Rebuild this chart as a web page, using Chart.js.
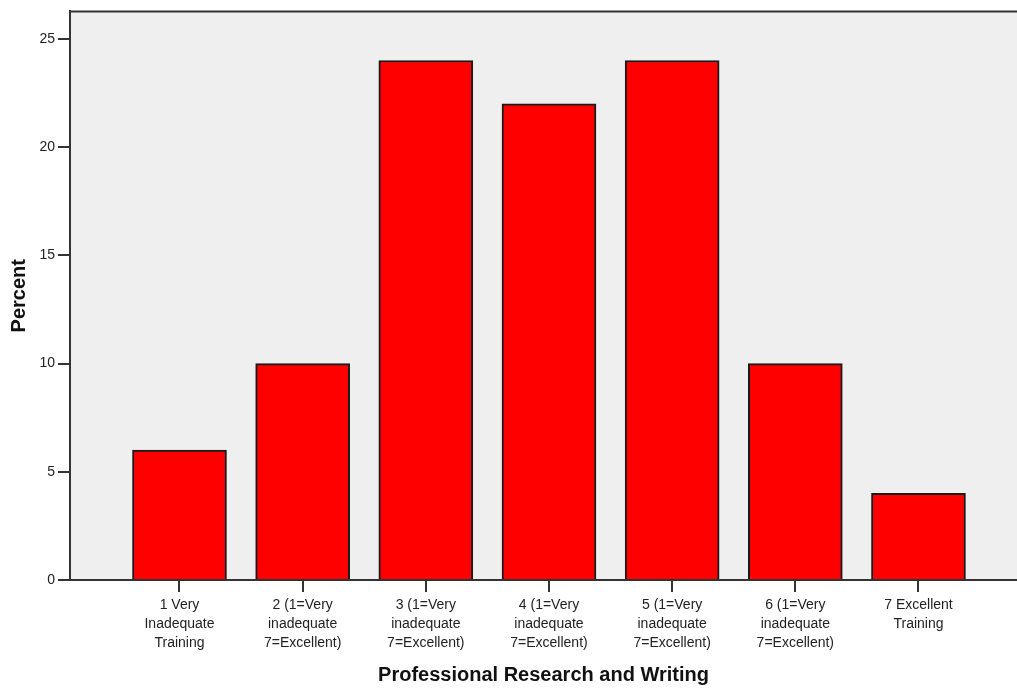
<!DOCTYPE html>
<html>
<head>
<meta charset="utf-8">
<script src="https://cdn.jsdelivr.net/npm/chart.js@4.4.1/dist/chart.umd.min.js"></script>
<style>
    body { margin: 0; background: #fff; }
    #wrap { width: 1017px; height: 690px; position: relative; }
</style>
</head>
<body>
<div id="wrap"><canvas id="chartWriting"></canvas></div>
<script>
var categories = [
    '1 Very\nInadequate\nTraining',
    '2 (1=Very\ninadequate\n7=Excellent)',
    '3 (1=Very\ninadequate\n7=Excellent)',
    '4 (1=Very\ninadequate\n7=Excellent)',
    '5 (1=Very\ninadequate\n7=Excellent)',
    '6 (1=Very\ninadequate\n7=Excellent)',
    '7 Excellent\nTraining'
];
var percentValues = [6, 10, 24, 22, 24, 10, 4];
var yTicks = [0, 5, 10, 15, 20, 25];

var narrowFont = "'Liberation Sans Narrow', 'Arial Narrow', 'Liberation Sans', Arial, sans-serif";
var plainFont = "'Liberation Sans', Arial, sans-serif";

// gray plot background + top frame line
var plotFrame = {
    id: 'plotFrame',
    beforeDraw: function (chart) {
        var ctx = chart.ctx, a = chart.chartArea;
        ctx.save();
        ctx.fillStyle = '#efefef';
        ctx.fillRect(a.left, a.top, a.right - a.left, a.bottom - a.top);
        ctx.strokeStyle = '#333';
        ctx.lineWidth = 2;
        ctx.beginPath();
        ctx.moveTo(a.left, a.top);
        ctx.lineTo(a.right, a.top);
        ctx.stroke();
        ctx.restore();
    }
};

var points = percentValues.map(function (v, i) { return { x: i + 1, y: v }; });

new Chart(document.getElementById('chartWriting'), {
    type: 'bar',
    data: {
        datasets: [{
            data: points,
            backgroundColor: '#ff0000',
            borderColor: '#1a1a1a',
            borderWidth: 2,
            barThickness: 94
        }]
    },
    options: {
        responsive: true,
        maintainAspectRatio: false,
        animation: false,
        layout: { padding: { top: 11, right: 0, left: 0, bottom: 0 } },
        plugins: { legend: { display: false }, tooltip: { enabled: false } },
        scales: {
            x: {
                type: 'linear',
                min: 0.111,
                max: 7.8,
                offset: false,
                afterBuildTicks: function (scale) {
                    scale.ticks = categories.map(function (c, i) { return { value: i + 1 }; });
                },
                afterFit: function (scale) { scale.height = 110; },
                ticks: {
                    color: '#222',
                    padding: 4,
                    maxRotation: 0,
                    autoSkip: false,
                    font: { family: plainFont, size: 14, lineHeight: 1.35 },
                    callback: function (value) { return categories[value - 1].split('\n'); }
                },
                grid: { offset: false, drawOnChartArea: false, drawTicks: true, tickLength: 12, color: '#333', lineWidth: 2 },
                border: { display: true, color: '#333', width: 2 },
                title: {
                    display: true,
                    text: 'Professional Research and Writing',
                    color: '#111',
                    padding: { top: 0, bottom: 3 },
                    font: { family: narrowFont, size: 20, weight: 'bold' }
                }
            },
            y: {
                min: 0,
                max: 26.27,
                afterBuildTicks: function (scale) {
                    scale.ticks = yTicks.map(function (t) { return { value: t }; });
                },
                afterFit: function (scale) { scale.width = 70; },
                ticks: {
                    color: '#222',
                    padding: 3,
                    font: { family: plainFont, size: 14 }
                },
                grid: { drawOnChartArea: false, drawTicks: true, tickLength: 12, color: '#333', lineWidth: 2 },
                border: { display: true, color: '#333', width: 2 },
                title: {
                    display: true,
                    text: 'Percent',
                    color: '#111',
                    padding: { top: 7, bottom: 0 },
                    font: { family: narrowFont, size: 20, weight: 'bold' }
                }
            }
        }
    },
    plugins: [plotFrame]
});
</script>
</body>
</html>
